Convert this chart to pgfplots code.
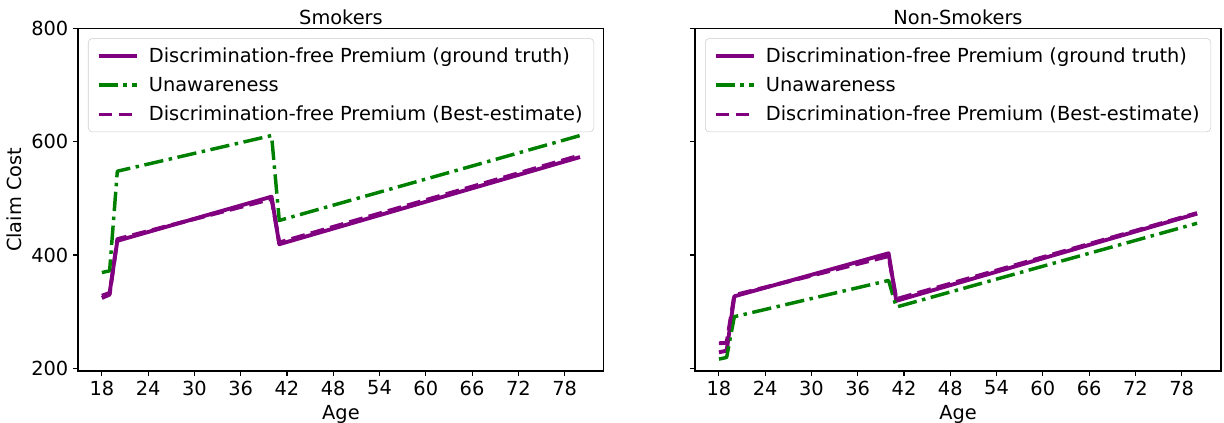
\documentclass[border=0pt]{standalone}
\usepackage{fontspec}
\setmainfont{DejaVu Sans}
\usepackage{pgfplots}
\pgfplotsset{compat=1.18}
\definecolor{mplpurple}{HTML}{800080}
\definecolor{mplgreen}{HTML}{008000}

% Smokers
\pgfplotstableread{
age gt unaw be
18 328 369 324
19 333 372 330
20 425 548 428
40 503 611 499
41 419 461 422
80 573 611 576
}\smokers
% Non-smokers
\pgfplotstableread{
age gt unaw be
18 228 216 244
19 231 219 245
20 327 291 329
40 403 355 398
41 319 308 322
80 473 456 474
}\nonsmokers

\newcommand{\fs}{\fontsize{14}{16.8}\selectfont}

\pgfplotsset{
  myax/.style={
    scale only axis, width=380.1pt, height=247.5pt,
    xmin=14.9, xmax=83.1, ymin=195, ymax=800,
    xtick={18,24,...,78}, ytick={200,400,600,800},
    xtick pos=lower, ytick pos=left,
    tick align=outside, major tick length=3.5pt,
    tick style={black, line width=0.8pt},
    axis line style={line width=0.8pt},
    /pgf/number format/assume math mode=true,
    ticklabel style={font=\fs},
    label style={font=\fs},
    title style={font=\fs, at={(0.5,1)}, anchor=base, yshift=-2.8pt},
    xlabel={Age},
    legend cell align=left,
    legend style={at={(0.019,0.972)}, anchor=north west, draw=black!20,
      rounded corners=3pt, fill=white, fill opacity=0.8, text opacity=1,
      font=\fs, inner xsep=6pt, inner ysep=4.5pt, row sep=5.3pt,
      /tikz/every odd column/.append style={column sep=5pt}},
    legend image code/.code={\draw[#1] (0pt,0pt) -- (28pt,0pt);},
    every axis plot/.append style={line join=round},
  },
  gt/.style={mplpurple, line width=2.8pt},
  un/.style={mplgreen, line width=2.5pt, dash pattern=on 14pt off 4pt on 2.5pt off 4pt},
  be/.style={mplpurple, line width=2.8pt, dash pattern=on 10pt off 4.5pt},
}

\begin{document}
\begin{tikzpicture}
\path[use as bounding box] (0pt,0pt) rectangle (884.6pt,305pt);
\begin{axis}[myax, at={(56.37pt,36.86pt)}, anchor=south west,
  title={Smokers}, ylabel={Claim Cost}]
  \addplot[gt] table[x=age,y=gt] {\smokers};
  \addlegendentry{Discrimination-free Premium (ground truth)}
  \addplot[un] table[x=age,y=unaw] {\smokers};
  \addlegendentry{Unawareness}
  \addplot[be] table[x=age,y=be] {\smokers};
  \addlegendentry{Discrimination-free Premium (Best-estimate)}
\end{axis}
\begin{axis}[myax, at={(502.3pt,36.86pt)}, anchor=south west,
  title={Non-Smokers}, yticklabels={}]
  \addplot[gt] table[x=age,y=gt] {\nonsmokers};
  \addlegendentry{Discrimination-free Premium (ground truth)}
  \addplot[un] table[x=age,y=unaw] {\nonsmokers};
  \addlegendentry{Unawareness}
  \addplot[be] table[x=age,y=be] {\nonsmokers};
  \addlegendentry{Discrimination-free Premium (Best-estimate)}
\end{axis}
\end{tikzpicture}
\end{document}
